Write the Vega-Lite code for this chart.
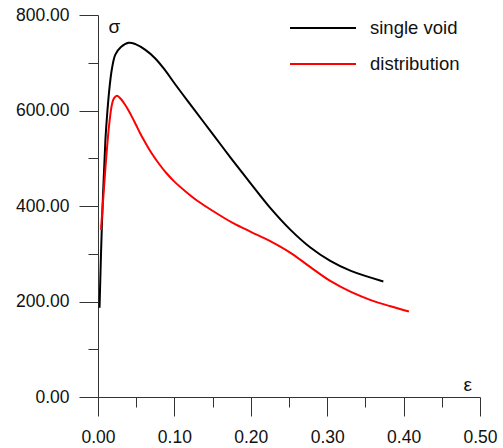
{
  "$schema": "https://vega.github.io/schema/vega-lite/v6.json",
  "autosize": "none",
  "width": 382,
  "height": 382,
  "padding": {"left": 98, "top": 15, "right": 23, "bottom": 51},
  "background": "white",
  "config": {
    "view": {"stroke": null},
    "font": "Liberation Sans"
  },
  "data": {
    "values": [
      {"series": "single void", "strain": 0.002, "stress": 187},
      {"series": "single void", "strain": 0.0052, "stress": 365},
      {"series": "single void", "strain": 0.0096, "stress": 535},
      {"series": "single void", "strain": 0.0118, "stress": 588},
      {"series": "single void", "strain": 0.0131, "stress": 614},
      {"series": "single void", "strain": 0.0152, "stress": 650},
      {"series": "single void", "strain": 0.0183, "stress": 688},
      {"series": "single void", "strain": 0.0227, "stress": 717},
      {"series": "single void", "strain": 0.030, "stress": 733},
      {"series": "single void", "strain": 0.040, "stress": 742},
      {"series": "single void", "strain": 0.049, "stress": 739},
      {"series": "single void", "strain": 0.062, "stress": 727},
      {"series": "single void", "strain": 0.075, "stress": 709},
      {"series": "single void", "strain": 0.088, "stress": 684},
      {"series": "single void", "strain": 0.101, "stress": 655},
      {"series": "single void", "strain": 0.124, "stress": 606},
      {"series": "single void", "strain": 0.150, "stress": 551},
      {"series": "single void", "strain": 0.1737, "stress": 501},
      {"series": "single void", "strain": 0.200, "stress": 447},
      {"series": "single void", "strain": 0.226, "stress": 395},
      {"series": "single void", "strain": 0.252, "stress": 350},
      {"series": "single void", "strain": 0.278, "stress": 313},
      {"series": "single void", "strain": 0.304, "stress": 285},
      {"series": "single void", "strain": 0.331, "stress": 264},
      {"series": "single void", "strain": 0.3735, "stress": 242},
      {"series": "distribution", "strain": 0.0039, "stress": 350},
      {"series": "distribution", "strain": 0.0083, "stress": 448},
      {"series": "distribution", "strain": 0.0109, "stress": 504},
      {"series": "distribution", "strain": 0.0148, "stress": 573},
      {"series": "distribution", "strain": 0.0183, "stress": 613},
      {"series": "distribution", "strain": 0.021, "stress": 626},
      {"series": "distribution", "strain": 0.0249, "stress": 631},
      {"series": "distribution", "strain": 0.030, "stress": 624},
      {"series": "distribution", "strain": 0.035, "stress": 613},
      {"series": "distribution", "strain": 0.040, "stress": 600},
      {"series": "distribution", "strain": 0.045, "stress": 585},
      {"series": "distribution", "strain": 0.050, "stress": 569},
      {"series": "distribution", "strain": 0.055, "stress": 553},
      {"series": "distribution", "strain": 0.060, "stress": 538},
      {"series": "distribution", "strain": 0.065, "stress": 524},
      {"series": "distribution", "strain": 0.070, "stress": 511},
      {"series": "distribution", "strain": 0.080, "stress": 488},
      {"series": "distribution", "strain": 0.090, "stress": 468},
      {"series": "distribution", "strain": 0.100, "stress": 451},
      {"series": "distribution", "strain": 0.115, "stress": 430},
      {"series": "distribution", "strain": 0.130, "stress": 411},
      {"series": "distribution", "strain": 0.150, "stress": 390},
      {"series": "distribution", "strain": 0.177, "stress": 364},
      {"series": "distribution", "strain": 0.200, "stress": 346},
      {"series": "distribution", "strain": 0.226, "stress": 326},
      {"series": "distribution", "strain": 0.252, "stress": 302},
      {"series": "distribution", "strain": 0.278, "stress": 272},
      {"series": "distribution", "strain": 0.304, "stress": 243},
      {"series": "distribution", "strain": 0.331, "stress": 220},
      {"series": "distribution", "strain": 0.357, "stress": 203},
      {"series": "distribution", "strain": 0.383, "stress": 190},
      {"series": "distribution", "strain": 0.407, "stress": 179}
    ]
  },
  "mark": {"type": "line", "strokeWidth": 2, "interpolate": "catmull-rom"},
  "encoding": {
    "x": {
      "field": "strain",
      "type": "quantitative",
      "scale": {"domain": [0, 0.5], "nice": false, "zero": false},
      "axis": {
        "values": [0, 0.05, 0.1, 0.15, 0.2, 0.25, 0.3, 0.35, 0.4, 0.45, 0.5],
        "labelExpr": "abs(datum.value*10-round(datum.value*10))<1e-6 ? format(datum.value,'.2f') : ''",
        "tickSize": {"condition": {"test": "abs(datum.value*10-round(datum.value*10))<1e-6", "value": 19}, "value": 10},
        "grid": false,
        "domainColor": "#333333",
        "tickColor": "#333333",
        "labelColor": "#111111",
        "labelFontSize": 17.5,
        "labelPadding": 12,
        "labelOverlap": false,
        "labelBound": false,
        "labelFlush": false,
        "title": "ε",
        "titleFontSize": 19,
        "titleFontWeight": "normal",
        "titleColor": "#111111",
        "titleAngle": 0,
        "titleAlign": "left",
        "titleBaseline": "alphabetic",
        "titleX": 365,
        "titleY": -7
      }
    },
    "y": {
      "field": "stress",
      "type": "quantitative",
      "scale": {"domain": [0, 800], "nice": false, "zero": false},
      "axis": {
        "values": [0, 100, 200, 300, 400, 500, 600, 700, 800],
        "labelExpr": "datum.value % 200 == 0 ? format(datum.value,'.2f') : ''",
        "tickSize": {"condition": {"test": "datum.value % 200 == 0", "value": 19}, "value": 10},
        "grid": false,
        "domainColor": "#333333",
        "tickColor": "#333333",
        "labelColor": "#111111",
        "labelFontSize": 17.5,
        "labelPadding": 10,
        "labelOverlap": false,
        "labelBound": false,
        "labelFlush": false,
        "title": "σ",
        "titleFontSize": 19,
        "titleFontWeight": "normal",
        "titleColor": "#111111",
        "titleAngle": 0,
        "titleAlign": "left",
        "titleBaseline": "alphabetic",
        "titleX": 10,
        "titleY": 17
      }
    },
    "color": {
      "field": "series",
      "type": "nominal",
      "scale": {"domain": ["single void", "distribution"], "range": ["#000000", "#ff0000"]},
      "legend": {
        "title": null,
        "orient": "none",
        "legendX": 191,
        "legendY": 3,
        "padding": 0,
        "symbolType": "stroke",
        "symbolSize": 4356,
        "symbolStrokeWidth": 2,
        "clipHeight": 20,
        "rowPadding": 16,
        "labelOffset": 13,
        "labelFontSize": 18.5,
        "labelColor": "#111111",
        "labelLimit": 300
      }
    }
  }
}
